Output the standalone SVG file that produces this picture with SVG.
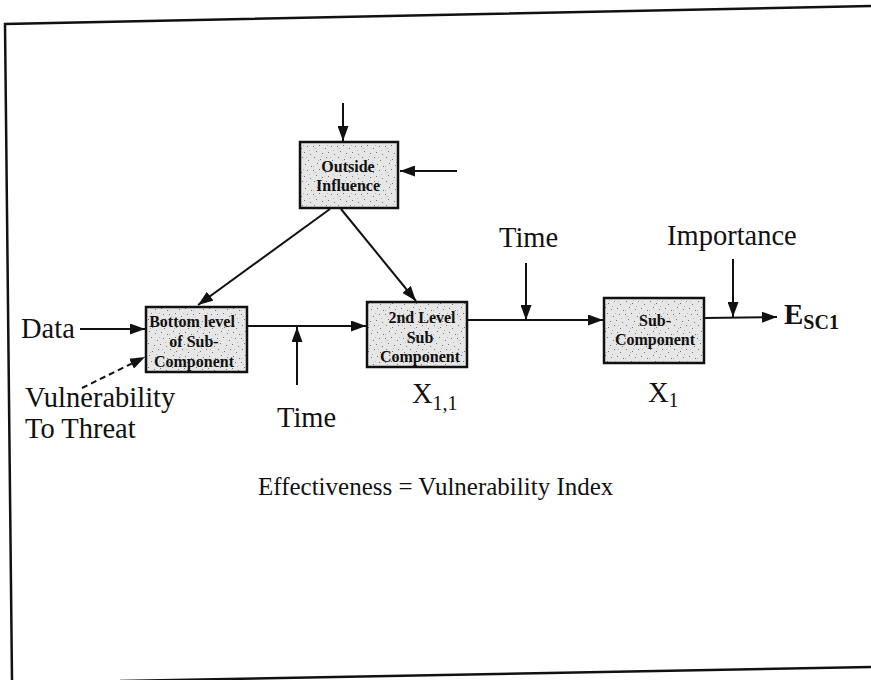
<svg xmlns="http://www.w3.org/2000/svg" width="871" height="680" viewBox="0 0 871 680">
<style>
.lbl{font-family:"Liberation Serif","Times New Roman",serif;font-size:28.5px;fill:#111}
.box{fill:url(#stip);stroke:#111;stroke-width:2.5}
.bt{font-family:"Liberation Serif","Times New Roman",serif;font-size:16px;font-weight:bold;fill:#111;text-anchor:middle}
.ln{stroke:#111;stroke-width:2;fill:none}
.frame{stroke:#111;stroke-width:2.5;fill:none}
</style>
<defs>
<pattern id="stip" width="24" height="24" patternUnits="userSpaceOnUse">
<rect width="24" height="24" fill="#e6e6e6"/>
<g fill="#777">
<rect x="1" y="2" width="1" height="1"/><rect x="7" y="1" width="1" height="1"/><rect x="13" y="4" width="1" height="1"/><rect x="19" y="2" width="1" height="1"/>
<rect x="4" y="7" width="1" height="1"/><rect x="10" y="9" width="1" height="1"/><rect x="16" y="8" width="1" height="1"/><rect x="22" y="10" width="1" height="1"/>
<rect x="2" y="13" width="1" height="1"/><rect x="8" y="15" width="1" height="1"/><rect x="14" y="13" width="1" height="1"/><rect x="20" y="16" width="1" height="1"/>
<rect x="5" y="19" width="1" height="1"/><rect x="11" y="21" width="1" height="1"/><rect x="17" y="20" width="1" height="1"/><rect x="23" y="22" width="1" height="1"/>
</g>
<g fill="#bbb">
<rect x="3" y="4" width="1" height="1"/><rect x="15" y="1" width="1" height="1"/><rect x="9" y="12" width="1" height="1"/><rect x="21" y="6" width="1" height="1"/>
<rect x="6" y="16" width="1" height="1"/><rect x="18" y="13" width="1" height="1"/><rect x="12" y="18" width="1" height="1"/><rect x="1" y="22" width="1" height="1"/>
</g>
</pattern>
<marker id="ah" markerUnits="userSpaceOnUse" markerWidth="15" markerHeight="11" refX="15" refY="5.5" orient="auto">
<path d="M0,0 L15,5.5 L0,11 z" fill="#111"/>
</marker>
</defs>
<rect width="871" height="680" fill="#fff"/>
<g id="frame">
<path class="frame" d="M871,6 L5,24 L12,680"/>
<path class="frame" d="M120,681 L871,667"/>
</g>
<g id="connectors">
<line class="ln" x1="343" y1="103" x2="343" y2="141" marker-end="url(#ah)"/>
<line class="ln" x1="457" y1="171" x2="400" y2="171" marker-end="url(#ah)"/>
<line class="ln" x1="330" y1="209" x2="198" y2="305" marker-end="url(#ah)"/>
<line class="ln" x1="341" y1="209" x2="416" y2="301" marker-end="url(#ah)"/>
<line class="ln" x1="80" y1="329" x2="145" y2="329" marker-end="url(#ah)"/>
<line class="ln" x1="82" y1="388" x2="145" y2="357" stroke-dasharray="6,4" marker-end="url(#ah)"/>
<line class="ln" x1="247" y1="326" x2="366" y2="326" marker-end="url(#ah)"/>
<line class="ln" x1="297" y1="385" x2="297" y2="327" marker-end="url(#ah)"/>
<line class="ln" x1="467" y1="320" x2="603" y2="320" marker-end="url(#ah)"/>
<line class="ln" x1="526" y1="263" x2="526" y2="320" marker-end="url(#ah)"/>
<line class="ln" x1="704" y1="318" x2="777" y2="317" marker-end="url(#ah)"/>
<line class="ln" x1="733" y1="259" x2="733" y2="317" marker-end="url(#ah)"/>
</g>
<g id="outside">
<rect class="box" x="300" y="142" width="98" height="66"/>
<text class="bt" x="348" y="172">Outside</text>
<text class="bt" x="348" y="191">Influence</text>
</g>
<g id="bottom">
<rect class="box" x="146" y="307" width="101" height="65"/>
<text class="bt" x="192" y="327">Bottom level</text>
<text class="bt" x="194" y="347">of Sub-</text>
<text class="bt" x="194" y="367">Component</text>
</g>
<g id="second">
<rect class="box" x="367" y="302" width="100" height="65"/>
<text class="bt" x="422" y="323">2nd Level</text>
<text class="bt" x="420" y="343">Sub</text>
<text class="bt" x="420" y="362">Component</text>
</g>
<g id="subcomp">
<rect class="box" x="604" y="298" width="100" height="65"/>
<text class="bt" x="655" y="326">Sub-</text>
<text class="bt" x="655" y="345">Component</text>
</g>
<g id="labels">
<text class="lbl" x="21" y="338">Data</text>
<text class="lbl" x="25" y="407">Vulnerability</text>
<text class="lbl" x="25" y="438">To Threat</text>
<text class="lbl" x="277" y="427">Time</text>
<text class="lbl" x="499" y="247">Time</text>
<text class="lbl" x="667" y="245">Importance</text>
<text class="lbl" x="412" y="403">X<tspan font-size="20" dy="7">1,1</tspan></text>
<text class="lbl" x="648" y="402">X<tspan font-size="20" dy="5">1</tspan></text>
<text class="lbl" x="784" y="324" style="font-weight:bold;font-size:29px">E<tspan font-size="20" dy="5">SC1</tspan></text>
<text class="lbl" x="258" y="495" style="font-size:25px">Effectiveness = Vulnerability Index</text>
</g>
</svg>
